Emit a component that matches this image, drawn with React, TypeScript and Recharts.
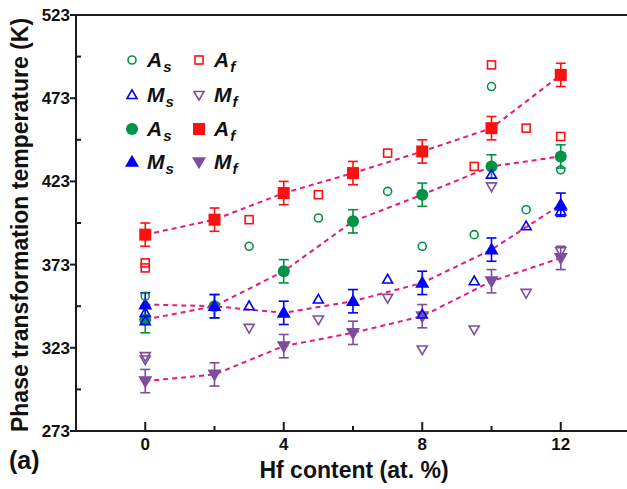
import { ComposedChart, ErrorBar, ReferenceLine, Scatter, XAxis, YAxis } from 'recharts';

const FONT = '"Liberation Sans", Arial, Helvetica, sans-serif';
const GREEN = '#009245';
const RED = '#ff1010';
const BLUE = '#0000ff';
const PURPLE = '#7b4f9d';
const DASH = '#e6197d';
const AXIS = '#1a1a1a';

// filled symbols: mean values with error bars (K)
const hfContent = [0, 2, 4, 6, 8, 10, 12];
const asMean = [340, 348, 369, 399, 415, 432, 438];
const asErr = [8, 7, 7, 7, 7, 7, 7];
const afMean = [391, 400, 416, 428, 441, 455, 487];
const afErr = [7, 7, 7, 7, 7, 7, 7];
const msMean = [349, 348, 344, 351, 362, 382, 409];
const msErr = [7, 7, 7, 7, 7, 7, 7];
const mfMean = [303, 307, 324, 332, 342, 363, 377];
const mfErr = [7, 7, 7, 7, 7, 7, 7];

// open symbols: individual literature values (K)
const asOpenX = [0, 3, 5, 7, 8, 9.5, 10, 11, 12];
const asOpenY = [354, 384, 401, 417, 384, 391, 480, 406, 430];
const afOpenX = [0, 0, 3, 5, 7, 9.5, 10, 11, 12];
const afOpenY = [374, 371, 400, 415, 440, 432, 493, 455, 450];
const msOpenX = [0, 0, 3, 5, 7, 8, 9.5, 10, 11, 12, 12];
const msOpenY = [344, 339, 348, 352, 364, 343, 363, 427, 396, 408, 405];
const mfOpenX = [0, 0, 3, 5, 7, 8, 9.5, 10, 11, 12];
const mfOpenY = [318, 316, 335, 340, 353, 322, 334, 420, 356, 381];

const xTicks = [0, 2, 4, 6, 8, 10, 12];
const xMajor = [0, 4, 8, 12];
const yTicks = [273, 298, 323, 348, 373, 398, 423, 448, 473, 498, 523];
const yMajor = [273, 323, 373, 423, 473, 523];

type Kind = 'circle' | 'square' | 'up' | 'down';

function Glyph({
  kind,
  cx,
  cy,
  size,
  color,
  filled,
}: {
  kind: Kind;
  cx: number;
  cy: number;
  size: number;
  color: string;
  filled: boolean;
}) {
  const fill = filled ? color : 'none';
  const stroke = filled ? 'none' : color;
  const sw = filled ? 0 : 1.6;
  const r = size / 2;
  if (kind === 'circle') {
    return <circle cx={cx} cy={cy} r={r} fill={fill} stroke={stroke} strokeWidth={sw} />;
  }
  if (kind === 'square') {
    return (
      <rect x={cx - r} y={cy - r} width={size} height={size} fill={fill} stroke={stroke} strokeWidth={sw} />
    );
  }
  const h = size * 0.87;
  const pts =
    kind === 'up'
      ? `${cx},${cy - h * 0.6} ${cx + r},${cy + h * 0.4} ${cx - r},${cy + h * 0.4}`
      : `${cx},${cy + h * 0.6} ${cx + r},${cy - h * 0.4} ${cx - r},${cy - h * 0.4}`;
  return <polygon points={pts} fill={fill} stroke={stroke} strokeWidth={sw} strokeLinejoin="miter" />;
}

const shape = (kind: Kind, color: string, filled: boolean, size: number) => (props: any) => {
  if (props.cx == null || props.cy == null) return <g />;
  return <Glyph kind={kind} cx={props.cx} cy={props.cy} size={size} color={color} filled={filled} />;
};

const meanRows = (means: number[], errs: number[]) =>
  hfContent.map((x, i) => ({ x, y: means[i], err: errs[i] }));
const openRows = (xs: number[], ys: number[]) => xs.map((x, i) => ({ x, y: ys[i] }));

function YTick(props: any) {
  const { x, y, payload } = props;
  const major = yMajor.includes(payload.value);
  return (
    <g>
      {major ? (
        <line x1={x - 6} x2={x} y1={y} y2={y} stroke={AXIS} strokeWidth={2} />
      ) : (
        <line x1={x} x2={x + 5} y1={y} y2={y} stroke={AXIS} strokeWidth={2} />
      )}
      {major && (
        <text x={x - 6} y={y} dy={6} textAnchor="end" fontFamily={FONT} fontWeight="bold" fontSize={17} fill="#111">
          {payload.value}
        </text>
      )}
    </g>
  );
}

function XTick(props: any) {
  const { x, y, payload } = props;
  const major = xMajor.includes(payload.value);
  return (
    <g>
      <line x1={x} x2={x} y1={y} y2={y - (major ? 9 : 5)} stroke={AXIS} strokeWidth={2} />
      {major && (
        <text x={x} y={y + 19} textAnchor="middle" fontFamily={FONT} fontWeight="bold" fontSize={17} fill="#111">
          {payload.value}
        </text>
      )}
    </g>
  );
}

const legendItems = [
  { kind: 'circle' as Kind, color: GREEN, filled: false, size: 8, main: 'A', sub: 's', col: 0, row: 0 },
  { kind: 'square' as Kind, color: RED, filled: false, size: 8, main: 'A', sub: 'f', col: 1, row: 0 },
  { kind: 'up' as Kind, color: BLUE, filled: false, size: 10, main: 'M', sub: 's', col: 0, row: 1 },
  { kind: 'down' as Kind, color: PURPLE, filled: false, size: 10, main: 'M', sub: 'f', col: 1, row: 1 },
  { kind: 'circle' as Kind, color: GREEN, filled: true, size: 12, main: 'A', sub: 's', col: 0, row: 2 },
  { kind: 'square' as Kind, color: RED, filled: true, size: 12, main: 'A', sub: 'f', col: 1, row: 2 },
  { kind: 'up' as Kind, color: BLUE, filled: true, size: 14, main: 'M', sub: 's', col: 0, row: 3 },
  { kind: 'down' as Kind, color: PURPLE, filled: true, size: 14, main: 'M', sub: 'f', col: 1, row: 3 },
];
const legendColX = [132, 199];
const legendRowY = [60, 95, 129, 162];

function Legend() {
  return (
    <svg width={627} height={489} style={{ position: 'absolute', left: 0, top: 0, pointerEvents: 'none' }}>
      {legendItems.map((it, i) => {
        const cx = legendColX[it.col];
        const cy = legendRowY[it.row];
        return (
          <g key={i}>
            <Glyph kind={it.kind} cx={cx} cy={cy} size={it.size} color={it.color} filled={it.filled} />
            <text x={cx + 15} y={cy + 7} fontFamily={FONT} fontWeight="bold" fontStyle="italic" fontSize={21} fill="#111">
              {it.main}
              <tspan fontSize={15} dy={5} dx={1}>
                {it.sub}
              </tspan>
            </text>
          </g>
        );
      })}
      <text
        x={28}
        y={225}
        transform="rotate(-90 28 225)"
        textAnchor="middle"
        fontFamily={FONT}
        fontWeight="bold"
        fontSize={23}
        fill="#111"
      >
        Phase transformation temperature (K)
      </text>
      <text x={354} y={478} textAnchor="middle" fontFamily={FONT} fontWeight="bold" fontSize={23} fill="#111">
        Hf content (at. %)
      </text>
      <text x={9} y={469} fontFamily={FONT} fontWeight="bold" fontSize={25} fill="#111">
        (a)
      </text>
    </svg>
  );
}

const dashLine = { stroke: DASH, strokeWidth: 2, strokeDasharray: '5 4', fill: 'none' };

export default function App() {
  return (
    <div style={{ position: 'absolute', left: 0, top: 0, width: 627, height: 489, overflow: 'hidden', background: '#fff' }}>
      <ComposedChart width={630} height={489} margin={{ top: 15, right: 0, bottom: 0, left: 0 }}>
        <XAxis
          type="number"
          dataKey="x"
          domain={[-2, 14]}
          ticks={xTicks}
          tickSize={0}
          tickMargin={0}
          tickLine={false}
          tick={<XTick />}
          axisLine={{ stroke: AXIS, strokeWidth: 2 }}
          height={58}
          allowDataOverflow
        />
        <YAxis
          type="number"
          dataKey="y"
          domain={[273, 523]}
          ticks={yTicks}
          tickSize={0}
          tickMargin={0}
          tickLine={false}
          tick={<YTick />}
          axisLine={{ stroke: AXIS, strokeWidth: 2 }}
          width={76}
          allowDataOverflow
        />
        <ReferenceLine y={523} stroke={AXIS} strokeWidth={2} />

        <Scatter data={meanRows(afMean, afErr)} fill={RED} line={dashLine} shape={shape('square', RED, true, 12)} isAnimationActive={false}>
          <ErrorBar dataKey="err" direction="y" width={5} stroke={RED} strokeWidth={1.6} />
        </Scatter>
        <Scatter data={meanRows(asMean, asErr)} fill={GREEN} line={dashLine} shape={shape('circle', GREEN, true, 12)} isAnimationActive={false}>
          <ErrorBar dataKey="err" direction="y" width={5} stroke={GREEN} strokeWidth={1.6} />
        </Scatter>
        <Scatter data={meanRows(mfMean, mfErr)} fill={PURPLE} line={dashLine} shape={shape('down', PURPLE, true, 14)} isAnimationActive={false}>
          <ErrorBar dataKey="err" direction="y" width={5} stroke={PURPLE} strokeWidth={1.6} />
        </Scatter>
        <Scatter data={meanRows(msMean, msErr)} fill={BLUE} line={dashLine} shape={shape('up', BLUE, true, 14)} isAnimationActive={false}>
          <ErrorBar dataKey="err" direction="y" width={5} stroke={BLUE} strokeWidth={1.6} />
        </Scatter>

        <Scatter data={openRows(asOpenX, asOpenY)} fill={GREEN} shape={shape('circle', GREEN, false, 8)} isAnimationActive={false} />
        <Scatter data={openRows(afOpenX, afOpenY)} fill={RED} shape={shape('square', RED, false, 8)} isAnimationActive={false} />
        <Scatter data={openRows(msOpenX, msOpenY)} fill={BLUE} shape={shape('up', BLUE, false, 10)} isAnimationActive={false} />
        <Scatter data={openRows(mfOpenX, mfOpenY)} fill={PURPLE} shape={shape('down', PURPLE, false, 10)} isAnimationActive={false} />
      </ComposedChart>
      <Legend />
    </div>
  );
}
